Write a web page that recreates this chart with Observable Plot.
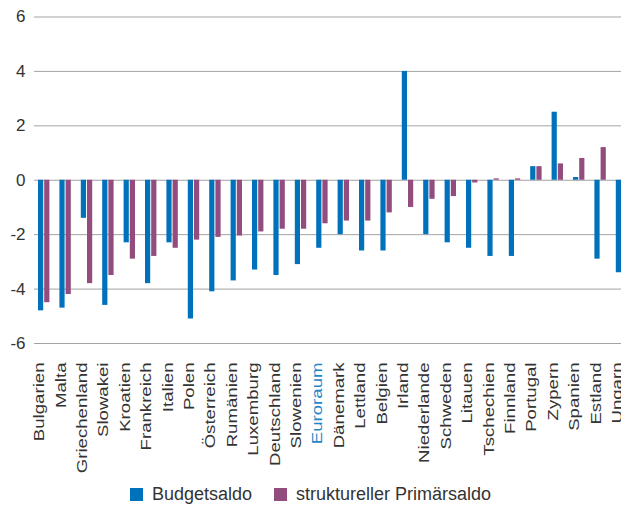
<!DOCTYPE html>
<html>
<head>
<meta charset="utf-8">
<script src="https://cdn.jsdelivr.net/npm/d3@7"></script>
<script src="https://cdn.jsdelivr.net/npm/@observablehq/plot@0.6"></script>
<style>
  html, body { margin: 0; padding: 0; background: #fff; overflow: hidden; }
  #chart svg { display: block; }
  .legend {
    display: flex; justify-content: center; align-items: center;
    height: 32px; padding-top: 2px;
    font-family: "Liberation Sans", Arial, sans-serif; font-size: 18px; color: #333;
  }
  .legend .item { display: flex; align-items: center; margin: 0 11px; }
  .legend .swatch { width: 13px; height: 13px; margin-right: 9px; }
</style>
</head>
<body>
<div id="chart"></div>
<script>
// Countries, sorted by the structural primary balance
const categories = [
  "Bulgarien", "Malta", "Griechenland", "Slowakei", "Kroatien", "Frankreich",
  "Italien", "Polen", "Österreich", "Rumänien", "Luxemburg", "Deutschland",
  "Slowenien", "Euroraum", "Dänemark", "Lettland", "Belgien", "Irland",
  "Niederlande", "Schweden", "Litauen", "Tschechien", "Finnland", "Portugal",
  "Zypern", "Spanien", "Estland", "Ungarn"
];
// Budget balance, % of GDP
const budgetsaldo = [
  -4.8, -4.7, -1.4, -4.6, -2.3, -3.8,
  -2.3, -5.1, -4.1, -3.7, -3.3, -3.5,
  -3.1, -2.5, -2.0, -2.6, -2.6, 4.0,
  -2.0, -2.3, -2.5, -2.8, -2.8, 0.5,
  2.5, 0.1, -2.9, -3.4
];
// Structural primary balance, % of GDP
const primaersaldo = [
  -4.5, -4.2, -3.8, -3.5, -2.9, -2.8,
  -2.5, -2.2, -2.1, -2.05, -1.9, -1.8,
  -1.8, -1.6, -1.5, -1.5, -1.2, -1.0,
  -0.7, -0.6, -0.1, 0.05, 0.05, 0.5,
  0.6, 0.8, 1.2, null
];
const seriesNames = ["Budgetsaldo", "struktureller Primärsaldo"];
const yTicks = [-6, -4, -2, 0, 2, 4, 6];

const BLUE = "#0071bb";
const PURPLE = "#924c7e";
const HIGHLIGHT = "#1f86c8";

const rows = categories.map((land, i) => ({land, budget: budgetsaldo[i], primaer: primaersaldo[i]}));

// the last group runs past the right edge of the frame
const X0 = 34, X1 = 633.2;
const band = (X1 - X0) / categories.length;

const chart = Plot.plot({
  width: 621,
  height: 476,
  marginTop: 16.5,
  marginBottom: 133,
  marginLeft: 34,
  marginRight: 0,
  style: {
    fontFamily: "Liberation Sans, Arial, sans-serif",
    fontSize: "17px",
    color: "#333",
    background: "white",
    overflow: "hidden"
  },
  x: {domain: categories, range: [X0, X1], padding: 0, round: false, axis: null},
  y: {domain: [-6, 6], ticks: yTicks, tickSize: 0, tickPadding: 9, tickFormat: d => String(d), label: null},
  marks: [
    Plot.ruleY(yTicks, {stroke: "#a3a3a3", strokeWidth: 1}),
    Plot.barY(rows, {x: "land", y: "budget", fill: BLUE, insetLeft: 4, insetRight: band - 9.2}),
    Plot.barY(rows, {x: "land", y: "primaer", fill: PURPLE, insetLeft: 10.2, insetRight: band - 15.4}),
    Plot.text(categories, {
      x: d => d,
      frameAnchor: "bottom",
      rotate: -90,
      textAnchor: "end",
      dy: 19,
      dx: -1,
      fontSize: 14,
      fill: d => d === "Euroraum" ? HIGHLIGHT : "#333"
    })
  ]
});

// stretch the rotated country names along their reading direction
const names = new Set(categories);
chart.querySelectorAll("text").forEach(t => {
  if (!names.has(t.textContent)) return;
  const tr = t.getAttribute("transform");
  if (tr) t.setAttribute("transform", tr + " scale(1.33,1)");
});

document.getElementById("chart").appendChild(chart);

// legend below the chart
const legend = document.createElement("div");
legend.className = "legend";
[BLUE, PURPLE].forEach((c, i) => {
  const item = document.createElement("div");
  item.className = "item";
  const sw = document.createElement("span");
  sw.className = "swatch";
  sw.style.background = c;
  const label = document.createElement("span");
  label.textContent = seriesNames[i];
  item.appendChild(sw);
  item.appendChild(label);
  legend.appendChild(item);
});
document.body.appendChild(legend);
</script>
</body>
</html>
